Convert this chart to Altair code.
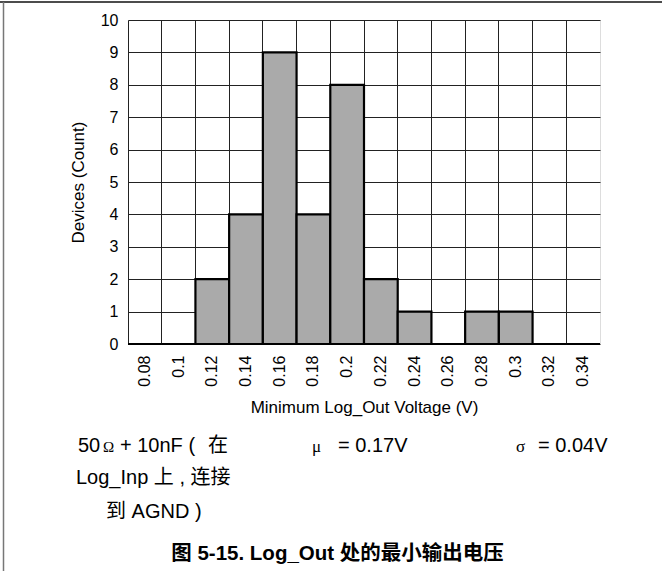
import altair as alt
import pandas as pd

# Histogram of the minimum Log_Out voltage
voltages = ["0.08", "0.1", "0.12", "0.14", "0.16", "0.18", "0.2",
            "0.22", "0.24", "0.26", "0.28", "0.3", "0.32", "0.34"]
counts = [0, 0, 2, 4, 9, 4, 8, 2, 1, 0, 1, 1, 0, 0]

# Note text under the chart, split into runs where the font changes
note_text = ["50", "Ω", "+ 10nF (", "在", "μ", "= 0.17V", "σ", "= 0.04V",
             "Log_Inp 上 , 连接", "到 AGND )"]
note_x = [-50, -25, -8, 80, 184, 210, 388, 410, -52, -22]
note_y = [432, 432, 432, 432, 432, 432, 432, 432, 464, 498]
note_size = [20, 15, 20, 20, 17, 20, 17, 20, 20, 20]
note_symbol = [False, True, False, False, True, False, True, False,
               False, False]
caption = "图 5-15. Log_Out 处的最小输出电压"

SANS = "Liberation Sans, Arial, Noto Sans CJK SC"
SERIF = "Liberation Serif, DejaVu Serif"

hist = pd.DataFrame({"v": voltages, "n": counts})
notes_df = pd.DataFrame({"t": note_text, "px": note_x, "py": note_y,
                         "fs": note_size, "sym": note_symbol})

x_enc = alt.X(
    "v:N", sort=voltages, title="Minimum Log_Out Voltage (V)",
    scale=alt.Scale(paddingInner=0, paddingOuter=0),
    axis=alt.Axis(labelAngle=-90, labelFontSize=16, labelPadding=11,
                  titleFontSize=17, titlePadding=13, ticks=False, domain=False,
                  grid=True, bandPosition=0, gridColor="#222", gridWidth=1,
                  labelColor="#000", titleColor="#000", labelFont=SANS,
                  titleFont=SANS, titleFontWeight="normal"),
)
y_enc = alt.Y(
    "n:Q", title="Devices (Count)",
    scale=alt.Scale(domain=[0, 10], nice=False),
    axis=alt.Axis(values=list(range(11)), labelFontSize=16, labelPadding=10,
                  titleFontSize=17, titlePadding=13, ticks=False, domain=False,
                  grid=True, gridColor="#222", gridWidth=1,
                  labelColor="#000", titleColor="#000", labelFont=SANS,
                  titleFont=SANS, titleFontWeight="normal"),
)

bars = alt.Chart(hist).mark_bar(
    color="#aaaaaa", stroke="#000", strokeWidth=2.2
).encode(x=x_enc, y=y_enc)

text_enc = dict(
    x=alt.X("px:Q", scale=None), y=alt.Y("py:Q", scale=None),
    size=alt.Size("fs:Q", scale=None, legend=None), text="t:N",
)

plain_notes = alt.Chart(notes_df).transform_filter("!datum.sym").mark_text(
    align="left", baseline="alphabetic", font=SANS, color="#000"
).encode(**text_enc)

symbol_notes = alt.Chart(notes_df).transform_filter("datum.sym").mark_text(
    align="left", baseline="alphabetic", font=SERIF, color="#000"
).encode(**text_enc)

cap_text = alt.Chart(pd.DataFrame({"t": [caption]})).mark_text(
    align="center", baseline="alphabetic", fontSize=20.5, fontWeight="bold",
    font=SANS, color="#000"
).encode(x=alt.value(209.5), y=alt.value(540), text="t:N")

# outer frame lines of the figure
frame_top = alt.Chart(pd.DataFrame({"a": [0]})).mark_rule(
    color="#111", strokeWidth=1.5
).encode(x=alt.value(-128), x2=alt.value(534), y=alt.value(-18))
frame_left = alt.Chart(pd.DataFrame({"a": [0]})).mark_rule(
    color="#777", strokeWidth=1.5
).encode(x=alt.value(-124.5), y=alt.value(-18), y2=alt.value(560))

chart = alt.layer(bars, plain_notes, symbol_notes, cap_text,
                  frame_top, frame_left).properties(
    width=472, height=324,
    autosize=alt.AutoSizeParams(type="none"),
    padding={"left": 128, "top": 20, "right": 62, "bottom": 227},
).configure_view(stroke="#000", strokeWidth=3).configure(background="white")

chart.save("out.html", embed_options={"renderer": "svg", "actions": False})
